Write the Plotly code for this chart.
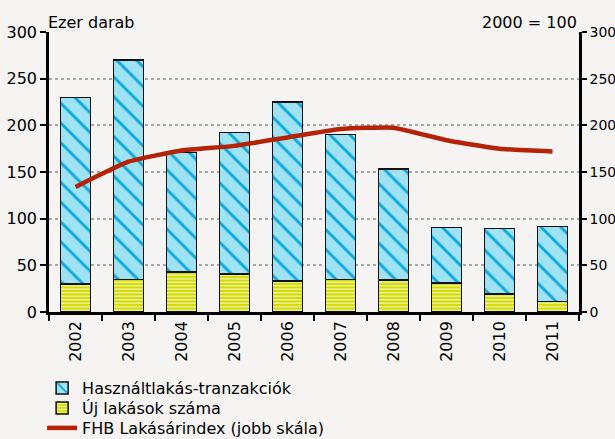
import plotly.graph_objects as go

years = ["2002", "2003", "2004", "2005", "2006", "2007", "2008", "2009", "2010", "2011"]
new_flats = [30, 35, 43, 40.5, 33, 35, 34.5, 31, 19.5, 11.5]
used_transactions = [200, 235, 128, 152, 192, 155, 118.5, 59.5, 70, 80]
fhb_index = [134, 161, 173, 178, 187, 196, 197.5, 184, 175, 172]
tick_values = [0, 50, 100, 150, 200, 250, 300]

FONT = "DejaVu Sans"
BG = "#F5F4F2"

fig = go.Figure()
fig.add_trace(go.Bar(
    x=years, y=new_flats, name="Új lakások száma", legend="legend2",
    marker=dict(color="#D2DA00", line=dict(color="#111111", width=1.5),
                pattern=dict(shape="-", fgcolor="#EEF29A", bgcolor="#D2DA00",
                             size=3.5, solidity=0.45, fillmode="replace")),
))
fig.add_trace(go.Bar(
    x=years, y=used_transactions, name="Használtlakás-tranzakciók", legend="legend",
    marker=dict(color="#9EE2F3", line=dict(color="#111111", width=1.5),
                pattern=dict(shape="\\", fgcolor="#0AA8DC", bgcolor="#9EE2F3",
                             size=14, solidity=0.2, fillmode="replace")),
))
fig.add_trace(go.Scatter(
    x=years, y=fhb_index, name="FHB Lakásárindex (jobb skála)", yaxis="y2",
    legend="legend3",
    mode="lines", line=dict(color="#B52206", width=4.5, shape="spline", smoothing=0.4),
))

axis_common = dict(
    range=[0, 300], tickvals=tick_values,
    showline=True, linecolor="black", linewidth=2.5,
    ticks="outside", tickwidth=2, tickcolor="black",
    zeroline=False,
)

PLOT_TOP, PLOT_BOTTOM = 32, 312
PLOT_H = PLOT_BOTTOM - PLOT_TOP


def legend_at(py):
    return dict(x=-0.013, y=(PLOT_BOTTOM - py) / PLOT_H, xanchor="left",
                yanchor="middle", bgcolor="rgba(0,0,0,0)",
                font=dict(family=FONT, size=16, color="black"),
                itemwidth=30, borderwidth=0)


fig.update_layout(
    width=615, height=439,
    paper_bgcolor=BG, plot_bgcolor=BG,
    margin=dict(l=49, r=36, t=PLOT_TOP, b=439 - PLOT_BOTTOM, autoexpand=False),
    barmode="stack", bargap=0.43,
    font=dict(family=FONT, size=16, color="black"),
    xaxis=dict(type="category", tickson="boundaries", ticks="outside",
               ticklen=6, tickwidth=2, tickcolor="black",
               showline=True, linecolor="black", linewidth=2.5,
               tickangle=-90, tickfont=dict(family=FONT, size=16, color="black"),
               showgrid=False),
    yaxis=dict(**axis_common, ticklen=6,
               tickfont=dict(family=FONT, size=16, color="black"),
               showgrid=True, gridcolor="#A8A8A8", griddash="dot", gridwidth=1.5),
    yaxis2=dict(**axis_common, ticklen=5,
                tickfont=dict(family=FONT, size=14, color="black"),
                overlaying="y", side="right", showgrid=False),
    showlegend=True,
    legend=legend_at(388),
    legend2=legend_at(408),
    legend3=legend_at(428),
    annotations=[
        dict(text="Ezer darab", xref="paper", yref="paper", x=-0.005, y=1.0,
             xanchor="left", yanchor="bottom", showarrow=False,
             font=dict(family=FONT, size=16), yshift=-2),
        dict(text="2000 = 100", xref="paper", yref="paper", x=1.0, y=1.0,
             xanchor="right", yanchor="bottom", showarrow=False,
             font=dict(family=FONT, size=16), yshift=-2),
    ],
)

fig.write_html(
    "out.html",
    config={"displayModeBar": False},
    post_script="document.body.style.margin='0';document.body.style.overflow='hidden';",
)
